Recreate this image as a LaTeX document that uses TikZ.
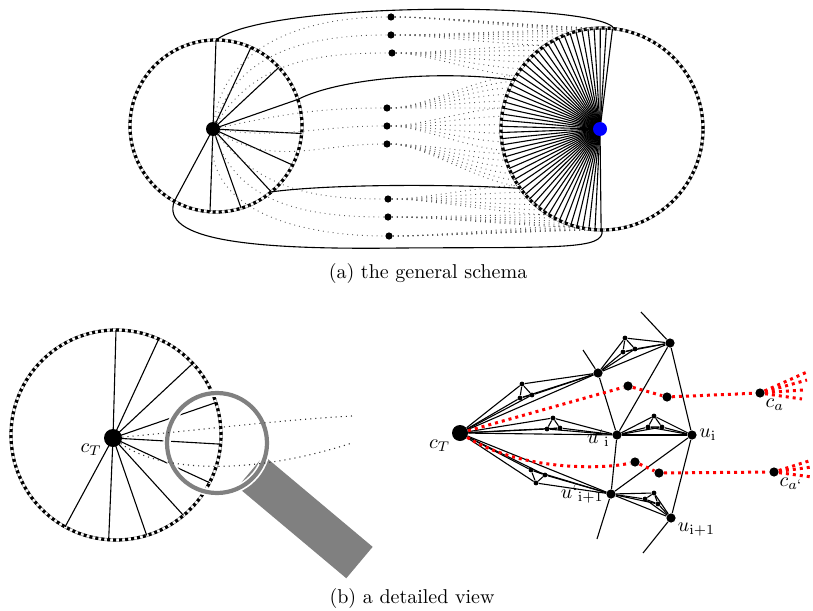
\documentclass[tikz,border=0pt]{standalone}
\usepackage{amsmath}
\usetikzlibrary{positioning}
\newcommand{\tick}{\text{`}}
\begin{document}
\begin{tikzpicture}[
        x=0.5pt, y=0.5pt,
        hub/.style={circle, fill=black, inner sep=0pt, minimum size=7pt},
        midv/.style={circle, fill=black, inner sep=0pt, minimum size=3.6pt},
        bigv/.style={circle, fill=black, inner sep=0pt, minimum size=4.6pt},
        tinyv/.style={circle, fill=black, inner sep=0pt, minimum size=2.4pt},
        rimback/.style={black!45, line width=0.3pt, double=white, double distance=1pt},
        rim/.style={line width=1.6pt, dash pattern=on 1.5pt off 1.5pt},
        spoke/.style={line width=0.55pt},
        faint/.style={black!65, line width=0.45pt, dotted},
        lensway/.style={black!80, line width=0.55pt, dotted},
        redway/.style={red, line width=1.5pt, dotted},
        lbl/.style={inner sep=1pt}
    ]
    \useasboundingbox (0,0) rectangle (813,-610);

    % (a) left cell
    \coordinate (lc) at (216,-126);
    \coordinate (lh) at (213,-129);
    \foreach \a [count=\i] in {90,66,43,18,-5,-27,-50,-73,-94,-119}
        \path (lc) ++(\a:86) coordinate (la\i);
    \draw[rimback] (lc) circle[radius=86];
    \draw[rim] (lc) circle[radius=86];
    \foreach \i in {1,...,10}
        \draw[spoke] (lh) -- (la\i);
    \node[hub] (lhub) at (lh) {};

    % (a) right cell
    \coordinate (rc) at (602,-129);
    \coordinate (rh) at (600,-129);
    \draw[rimback] (rc) circle[radius=101];
    \draw[rim] (rc) circle[radius=101];
    \foreach \a in {84,87.5,...,270}{
        \path (rc) ++(\a:101) coordinate (rp);
        \draw[spoke] (rh) -- (rp);
    }
    \foreach \n/\a in {rt1/83, rt2/151, rt3/216, rt4/270}
        \path (rc) ++(\a:101) coordinate (\n);
    \node[hub, fill=blue] (rhub) at (rh) {};

    % (a) middle vertices
    \foreach \n/\px/\py in {t1/391/-17, t2/391/-35, t3/392/-53, m1/387/-108, m2/387/-126, m3/387/-144, b1/388/-199, b2/388/-217, b3/389/-236}
        \node[midv] (\n) at (\px,\py) {};

    % dotted paths through the middle
    \foreach \n/\o in {t1/82, t2/72, t3/58, m1/12, m2/-8, m3/-32, b1/-52, b2/-72, b3/-95}
        \draw[faint] (lhub) to[out=\o, in=180] (\n);
    \foreach \n/\p/\q in {t1/84/102, t2/100/124, t3/124/148, m1/148/168, m2/168/192, m3/194/214, b1/214/238, b2/238/256, b3/254/272}
        \foreach \k in {0,...,5}{
            \pgfmathsetmacro\ang{\p+\k*(\q-\p)/5}
            \path (rc) ++(\ang:101) coordinate (rq);
            \draw[faint] (\n) to[out=0, in=180, looseness=0.6] (rq);
        }

    % separating paths
    \draw[spoke] (la1) .. controls (270,0) and (600,-2) .. (rt1);
    \draw[spoke] (la4) .. controls (340,-78) and (440,-70) .. (rt2);
    \draw[spoke] (la7) .. controls (330,-184) and (450,-184) .. (rt3);
    \draw[spoke] (la10) .. controls (160,-240) and (250,-250) .. (400,-248)
        .. controls (560,-247) and (605,-250) .. (rt4);

    \node (capa) at (428,-273) {(a) the general schema};

    % (b) left: the cell under the lens
    \coordinate (dc) at (116,-435);
    \coordinate (dh) at (113,-438);
    \foreach \a [count=\i] in {90,66,43,18,-5,-27,-50,-73,-94,-119}
        \path (dc) ++(\a:105) coordinate (da\i);
    \draw[rimback] (dc) circle[radius=105];
    \draw[rim] (dc) circle[radius=105];
    \foreach \i in {1,...,10}
        \draw[spoke] (dh) -- (da\i);
    \node[hub, minimum size=9pt, label={[lbl]200:$c_T$}] (dhub) at (dh) {};

    % magnifying glass
    \coordinate (lens) at (217,-443);
    \path (lens) ++(-40:44) coordinate (grip0) ++(-40:142) coordinate (grip1);
    \draw[gray, line width=20.5pt] (grip0) -- (grip1);
    \draw[white, line width=3.8pt] (lens) circle[radius=50];
    \draw[gray, line width=2.1pt] (lens) circle[radius=50];

    \coordinate (de1) at (352,-416);
    \coordinate (de2) at (352,-443);
    \draw[lensway] (dhub) .. controls (200,-430) and (280,-420) .. (de1);
    \draw[lensway] (dhub) .. controls (160,-472) and (250,-476) .. (de2);

    % (b) right: detailed view
    \node[hub, minimum size=8pt, label={[lbl]-150:$c_T$}] (tc) at (460,-433) {};
    \node[bigv] (va) at (598,-373) {};
    \node[bigv] (vb) at (670,-343) {};
    \node[bigv, label={[lbl, anchor=north east, yshift=4pt]180:${u\tick}_{\mathrm{i}}$}] (uip) at (617,-435) {};
    \node[bigv, label={[lbl]0:$u_{\mathrm{i}}$}] (ui) at (692,-435) {};
    \node[bigv, label={[lbl]180:${u\tick}_{\mathrm{i+1}}$}] (ujp) at (611,-494) {};
    \node[bigv, label={[lbl]-25:$u_{\mathrm{i+1}}$}] (uj) at (671,-518) {};
    \coordinate (sa) at (583,-350);
    \coordinate (sb) at (641,-312);
    \coordinate (sc) at (597,-539);
    \coordinate (sd) at (643,-553);

    \draw[spoke] (sa) -- (va) -- (uip) -- (ujp) -- (sc);
    \draw[spoke] (sb) -- (vb) -- (ui) -- (uj) -- (sd);
    \draw[spoke] (uip) -- (vb);
    \draw[spoke] (ujp) -- (ui);

    % small triangles on the edges
    \foreach \s/\e/\ax/\ay/\bx/\by/\cx/\cy in {
            tc/va/522/-384/520/-398/532/-395,
            tc/uip/553/-418/547/-429/560/-428,
            tc/ujp/531/-470/536/-483/545/-475,
            va/vb/625/-338/623/-352/635/-349,
            uip/ui/654/-416/648/-427/662/-427,
            ujp/uj/654/-493/645/-499/658/-504}{
        \node[tinyv] (k1) at (\ax,\ay) {};
        \node[tinyv] (k2) at (\bx,\by) {};
        \node[tinyv] (k3) at (\cx,\cy) {};
        \draw[spoke] (k1) -- (k2) -- (k3) -- (k1);
        \foreach \k in {k1,k2,k3}
            \draw[spoke] (\s) -- (\k) -- (\e);
        \draw[spoke] (\s) -- (\e);
    }

    % crossing paths
    \node[bigv] (ra1) at (628,-386) {};
    \node[bigv] (ra2) at (667,-397) {};
    \node[bigv, label={[lbl]-50:$c_a$}] (ca) at (760,-393) {};
    \node[bigv] (rb1) at (635,-462) {};
    \node[bigv] (rb2) at (659,-473) {};
    \node[bigv, label={[lbl]-50:$c_{a\tick}$}] (cb) at (774,-472) {};
    \draw[redway] (tc) -- (ra1) -- (ra2) -- (ca);
    \draw[redway] (tc) .. controls (520,-470) and (600,-470) .. (rb1) -- (rb2) -- (cb);
    \foreach \n/\px/\py in {fa1/807/-372, fa2/807/-380, fa3/803/-390, fa4/802/-399}{
        \coordinate (\n) at (\px,\py);
        \draw[redway] (ca) -- (\n);
    }
    \foreach \n/\px/\py in {fb1/812/-460, fb2/812/-467, fb3/812/-477}{
        \coordinate (\n) at (\px,\py);
        \draw[redway] (cb) -- (\n);
    }

    \node (capb) at (412,-598) {(b) a detailed view};
\end{tikzpicture}
\end{document}
